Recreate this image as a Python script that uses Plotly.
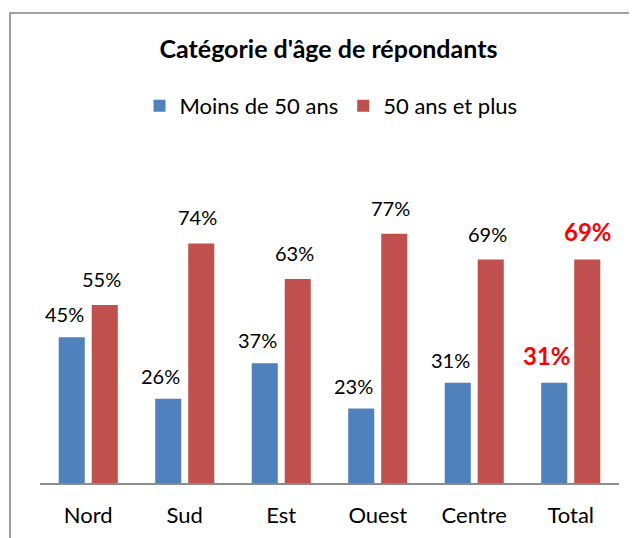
import plotly.graph_objects as go

categories = ["Nord", "Sud", "Est", "Ouest", "Centre", "Total"]
moins_50 = [45, 26, 37, 23, 31, 31]
plus_50 = [55, 74, 63, 77, 69, 69]
series_names = ["Moins de 50 ans", "50 ans et plus"]
title_text = "Catégorie d'âge de répondants"

W, H = 637, 538
OFF = 8  # page body margin
# target page positions -> figure positions
AX_LEFT, AX_RIGHT, AX_Y, PLOT_TOP = 40 - OFF, 619 - OFF, 483 - OFF, 224 - OFF
L, R, T, B = AX_LEFT, W - AX_RIGHT, PLOT_TOP, H - AX_Y
PW, PH = W - L - R, H - T - B

def px_x(px):
    return (px - OFF - L) / PW

def px_y(py):
    return (H - B - (py - OFF)) / PH

FONT = "Lato, Carlito, Calibri, sans-serif"
BLUE = "#4F81BD"
RED = "#C0504D"

fig = go.Figure()
fig.add_trace(go.Bar(x=categories, y=moins_50, name=series_names[0],
                     marker=dict(color=BLUE, line=dict(width=0))))
fig.add_trace(go.Bar(x=categories, y=plus_50, name=series_names[1],
                     marker=dict(color=RED, line=dict(width=0))))

annotations = []
for i, c in enumerate(categories):
    total = (c == "Total")
    fnt = dict(family=FONT, size=24 if total else 20,
               color="#FF0000" if total else "#000000",
               weight="bold" if total else "normal")
    annotations.append(dict(x=c, y=moins_50[i], text=f"{moins_50[i]}%",
                            showarrow=False, xref="x", yref="y",
                            xshift=-24, yshift=27 if total else 23,
                            yanchor="middle", xanchor="center", font=fnt))
    annotations.append(dict(x=c, y=plus_50[i], text=f"{plus_50[i]}%",
                            showarrow=False, xref="x", yref="y",
                            xshift=17 if total else 13, yshift=28 if total else 26,
                            yanchor="middle", xanchor="center", font=fnt))

shapes = [dict(type="path",
               path=f"M {px_x(10)},{px_y(560)} L {px_x(10)},{px_y(13)} L {px_x(660)},{px_y(13)}",
               xref="paper", yref="paper",
               line=dict(color="#A0A0A0", width=2))]

fig.update_layout(
    width=W, height=H,
    margin=dict(l=L, r=R, t=T, b=B, pad=0),
    paper_bgcolor="white", plot_bgcolor="white",
    barmode="group", bargap=0.316, bargroupgap=0.21,
    title=dict(text=f"<b>{title_text}</b>", x=(328.5 - OFF) / W, xref="container",
               xanchor="center", y=1 - (49 - OFF) / H, yref="container", yanchor="middle",
               font=dict(family=FONT, size=25, color="#000000")),
    legend=dict(orientation="h", x=px_x(331), xanchor="center",
                y=px_y(106), yanchor="middle",
                font=dict(family=FONT, size=22, color="#000000"),
                itemwidth=30, tracegroupgap=0, traceorder="normal"),
    xaxis=dict(showline=True, linecolor="#8C8C8C", linewidth=2,
               showgrid=False, ticks="", ticklabelstandoff=12,
               tickfont=dict(family=FONT, size=22, color="#000000")),
    yaxis=dict(range=[0, 80], visible=False, showgrid=False, zeroline=False),
    annotations=annotations,
    shapes=shapes,
    showlegend=True,
)

fig.write_html("out.html")
